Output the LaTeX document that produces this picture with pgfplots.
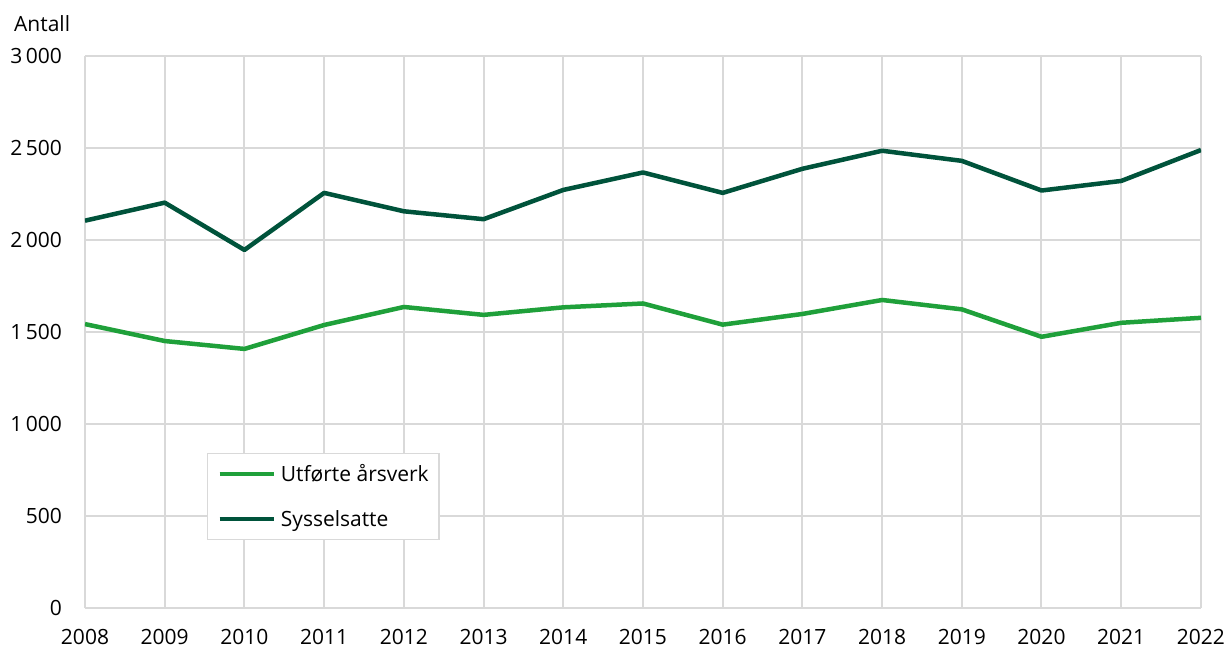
\documentclass[border=0pt]{standalone}
\usepackage{pgfplots}
\pgfplotsset{compat=1.18}
\usepackage{fontspec}
\setmainfont{Open Sans}
\definecolor{lgreen}{HTML}{1FA03A}
\definecolor{dgreen}{HTML}{00533B}
\definecolor{gridgray}{HTML}{D9D9D9}
\begin{document}
\fontsize{21bp}{25bp}\selectfont
\begin{tikzpicture}
\begin{axis}[
  scale only axis, width=1116bp, height=552bp,
  xmin=2008, xmax=2022, ymin=0, ymax=3000,
  xtick={2008,2009,...,2022}, ytick={0,500,...,3000},
  axis line style={draw=none}, major tick length=0pt,
  grid=major, major grid style={gridgray, line width=2bp},
  /pgf/number format/assume math mode=true,
  x tick label style={/pgf/number format/1000 sep={}, /pgf/number format/assume math mode=true, anchor=center, inner sep=0pt, yshift=-29bp},
  y tick label style={/pgf/number format/1000 sep={\,}, /pgf/number format/assume math mode=true, anchor=east, inner sep=0pt, xshift=-23bp},
  legend style={at={(0.109,0.281)}, anchor=north west, draw=gridgray, line width=1.5bp,
    inner xsep=10bp, inner ysep=13bp, row sep=30bp, column sep=5bp,
    nodes={inner sep=0pt, text height=15bp, text depth=0bp},
    font=\fontsize{21bp}{25bp}\selectfont},
  legend cell align=left,
  legend image code/.code={\draw[#1, line width=4.5bp] (0bp,0bp) -- (54bp,0bp);},
]
\addplot[lgreen, line width=4.5bp, line join=round] coordinates {
 (2008,1543) (2009,1451) (2010,1408) (2011,1538) (2012,1636) (2013,1593) (2014,1634)
 (2015,1655) (2016,1540) (2017,1598) (2018,1674) (2019,1623) (2020,1474) (2021,1550) (2022,1577)};
\addlegendentry{Utførte årsverk}
\addplot[dgreen, line width=4.5bp, line join=round] coordinates {
 (2008,2105) (2009,2203) (2010,1946) (2011,2256) (2012,2156) (2013,2113) (2014,2272)
 (2015,2367) (2016,2256) (2017,2387) (2018,2485) (2019,2430) (2020,2269) (2021,2321) (2022,2489)};
\addlegendentry{Sysselsatte}
\end{axis}
\node[anchor=base west, inner sep=0pt] at ([xshift=-71bp,yshift=24bp]current axis.north west) {Antall};
\pgfresetboundingbox
\path[use as bounding box] ([shift={(-85bp,-42bp)}]current axis.south west) rectangle ([shift={(26bp,56bp)}]current axis.north east);
\end{tikzpicture}
\end{document}
